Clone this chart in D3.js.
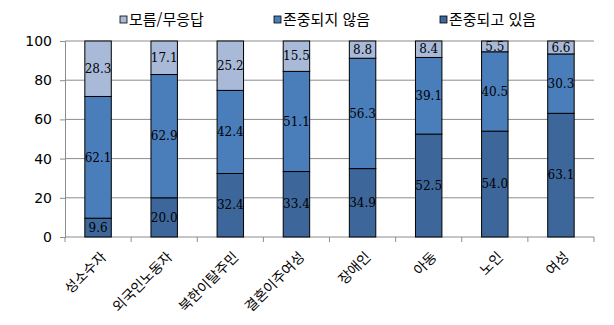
<!DOCTYPE html>
<html lang="ko">
<head>
<meta charset="UTF-8">
<title>존중 인식</title>
<script src="https://d3js.org/d3.v7.min.js"></script>
<style>
  body { margin: 0; background: #fff; }
  svg { display: block; }
  .ylab { font-family: Verdana, "DejaVu Sans", sans-serif; font-size: 14px; fill: #000; }
  .xlab { font-family: "Noto Sans CJK KR", sans-serif; font-size: 14px; fill: #000; }
  .val { font-family: "DejaVu Serif", serif; font-size: 12px; fill: #000; }
  .leg { font-family: "Noto Sans CJK KR", sans-serif; font-size: 15px; fill: #000; }
</style>
</head>
<body>
<svg id="chart"></svg>
<script>
const categories = ["성소수자", "외국인노동자", "북한이탈주민", "결혼이주여성", "장애인", "아동", "노인", "여성"];
const respected    = [9.6, 20.0, 32.4, 33.4, 34.9, 52.5, 54.0, 63.1];
const notRespected = [62.1, 62.9, 42.4, 51.1, 56.3, 39.1, 40.5, 30.3];
const dontKnow     = [28.3, 17.1, 25.2, 15.5, 8.8, 8.4, 5.5, 6.6];
const seriesNames  = ["존중되고 있음", "존중되지 않음", "모름/무응답"];
const yTicks = [0, 20, 40, 60, 80, 100];

const colors = ["#3d679b", "#4a7ebb", "#a9bad9"];
const width = 614, height = 325;
const margin = {left: 65, right: 20, top: 41, bottom: 88};

const svg = d3.select("#chart").attr("width", width).attr("height", height);

const rows = categories.map((c, i) => ({cat: c, s0: respected[i], s1: notRespected[i], s2: dontKnow[i]}));
const stacked = d3.stack().keys(["s0", "s1", "s2"])(rows);

const x = d3.scaleBand().domain(categories).range([margin.left, 594]).paddingInner(0.6).paddingOuter(0.3);
const y = d3.scaleLinear().domain([0, 100]).range([237, margin.top]);

// gridlines
svg.append("g").selectAll("line").data(yTicks.filter(t => t > 0)).join("line")
  .attr("x1", margin.left).attr("x2", 594)
  .attr("y1", d => y(d)).attr("y2", d => y(d))
  .attr("stroke", "#8c8c8c").attr("stroke-width", 1);

// y axis
const yAxis = svg.append("g").attr("transform", `translate(${margin.left},0)`)
  .call(d3.axisLeft(y).tickValues(yTicks).tickSize(5).tickPadding(8));
yAxis.select(".domain").attr("stroke", "#8c8c8c");
yAxis.selectAll(".tick line").attr("stroke", "#8c8c8c");
yAxis.selectAll("text").attr("class", "ylab").attr("font-family", null).attr("font-size", null);

// x axis line + boundary ticks
const band = (594 - margin.left) / categories.length;
svg.append("line").attr("x1", margin.left).attr("x2", 594).attr("y1", y(0)).attr("y2", y(0))
  .attr("stroke", "#8c8c8c");
svg.append("g").selectAll("line").data(d3.range(categories.length + 1)).join("line")
  .attr("x1", i => margin.left + i * band).attr("x2", i => margin.left + i * band)
  .attr("y1", y(0)).attr("y2", y(0) + 5)
  .attr("stroke", "#8c8c8c");

// bars
const groups = svg.append("g").selectAll("g").data(stacked).join("g")
  .attr("fill", (d, i) => colors[i]);
groups.selectAll("rect").data(d => d).join("rect")
  .attr("x", d => x(d.data.cat))
  .attr("width", x.bandwidth())
  .attr("y", d => y(d[1]))
  .attr("height", d => y(d[0]) - y(d[1]))
  .attr("stroke", "#000").attr("stroke-width", 1);

// value labels
groups.selectAll("text").data(d => d.map(v => ({v, key: d.key}))).join("text")
  .attr("class", "val")
  .attr("x", d => x(d.v.data.cat) + x.bandwidth() / 2)
  .attr("y", d => y((d.v[0] + d.v[1]) / 2))
  .attr("dy", "0.35em")
  .attr("text-anchor", "middle")
  .text(d => d.v.data[d.key].toFixed(1));

// category labels
svg.append("g").selectAll("text").data(categories).join("text")
  .attr("class", "xlab")
  .attr("text-anchor", "end")
  .attr("transform", d => `translate(${x(d) + x.bandwidth() / 2 + 9},${y(0) + 21}) rotate(-45)`)
  .text(d => d);

// legend
const legendItems = [
  {name: seriesNames[2], color: colors[2], x: 120},
  {name: seriesNames[1], color: colors[1], x: 274},
  {name: seriesNames[0], color: colors[0], x: 440}
];
const leg = svg.append("g").selectAll("g").data(legendItems).join("g")
  .attr("transform", d => `translate(${d.x},20)`);
leg.append("rect").attr("x", 0).attr("y", -4).attr("width", 7).attr("height", 7)
  .attr("fill", d => d.color).attr("stroke", "#000").attr("stroke-width", 0.8);
leg.append("text").attr("class", "leg").attr("x", 9).attr("y", 0).attr("dy", "0.35em")
  .text(d => d.name);
</script>
</body>
</html>
